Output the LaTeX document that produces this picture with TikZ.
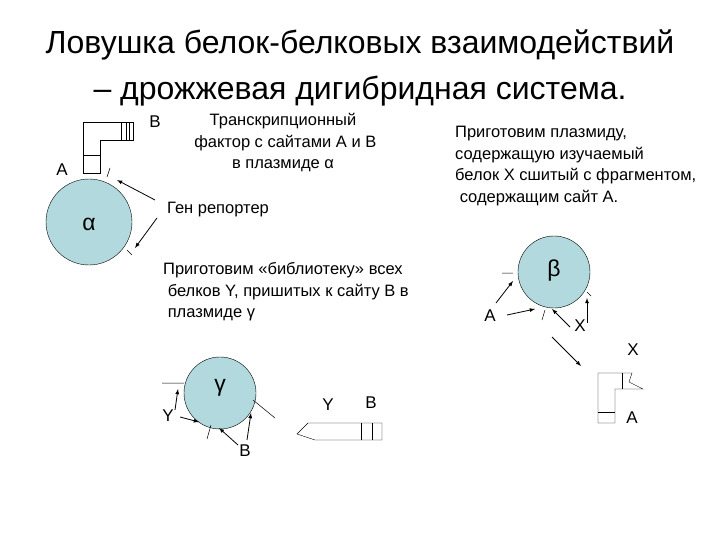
\documentclass[tikz,border=0pt]{standalone}
\usepackage{fontspec}
\setmainfont{Liberation Sans}
\definecolor{cfill}{RGB}{178,218,222}
\begin{document}
\begin{tikzpicture}[x=1pt,y=-1pt,
  circ/.style={draw,fill=cfill,circle},
  txt/.style={font=\fontsize{16.5}{21.5}\selectfont,inner sep=0pt},
  lbl/.style={font=\fontsize{17}{19}\selectfont,inner sep=1pt},
  gr/.style={font=\fontsize{23}{25}\selectfont,inner sep=0pt},
  arr/.style={-latex,thick},
  thin/.style={line width=0.5pt}]
\useasboundingbox (0,0) rectangle (720,540);
\node[font=\fontsize{32}{46}\selectfont,align=center] (title) at (360,68) {Ловушка белок-белковых взаимодействий\\– дрожжевая дигибридная система.};
% alpha
\node[circ,minimum size=86pt] (alpha) at (89,222) {};
\node[gr] (alab) at (89,224) {α};
\draw (83,122) -- (133,122) -- (133,140) -- (100,140) -- (100,173) -- (83,173) -- cycle;
\draw (83,155) -- (100,155) (121,122) -- (121,140) (126,122) -- (126,140) (129,122) -- (129,140);
\draw[thin] (107,177) -- (110,168) (127,250) -- (132,255);
\node[lbl] (A1) at (62,170) {A};
\node[lbl] (B1) at (155,122) {B};
\node[txt,align=center] (t1) at (283,143) {Транскрипционный\\\ фактор с сайтами А и В\\в плазмиде α};
\node[txt] (rep) at (218,210) {Ген репортер};
\coordinate (ra) at (117,180); \coordinate (rb) at (135,248);
\draw[arr] (155,200) -- (ra);
\draw[arr] (157,218) -- (rb);
\node[txt,align=left,anchor=west] (t2) at (163,292) {Приготовим «библиотеку» всех\\\ белков Y, пришитых к сайту В в\\\ плазмиде γ};
\node[txt,align=left,anchor=west] (t3) at (455,166) {Приготовим плазмиду,\\содержащую изучаемый\\белок Х сшитый с фрагментом,\\\ содержащим сайт А.};
% beta
\node[circ,minimum size=72pt] (beta) at (554,272) {};
\node[gr] (blab) at (554,271) {β};
\draw[thin] (502,273) -- (513,273) (542,320) -- (545,310) (587,292) -- (591,296);
\node[lbl] (A2) at (490,316) {A};
\node[lbl] (X2) at (580,326) {X};
\coordinate (b1) at (513,281); \coordinate (b2) at (535,309); \coordinate (b3) at (552,309); \coordinate (b4) at (587,298);
\draw[arr] (496,303) -- (b1);
\draw[arr] (507,315) -- (b2);
\draw[arr] (570,327) -- (b3);
\draw[arr] (587,323) -- (b4);
\coordinate (bs) at (552,337); \coordinate (be) at (581,366);
\draw[arr] (bs) -- (be);
\node[lbl] (X3) at (633,350) {X};
\draw (598,373) -- (632,373) -- (629,382) -- (643,389) -- (615,389) -- (615,423) -- (598,423) -- cycle;
\draw (622,373) -- (622,389) (598,412) -- (615,412);
\node[lbl] (A3) at (632,418) {A};
% gamma
\node[circ,minimum size=72pt] (gamma) at (220,393) {};
\node[gr] (glab) at (220,388) {γ};
\draw[thin] (162,383) -- (184,383) (207,439) -- (211,425) (253,400) -- (275,418);
\node[lbl] (Y1) at (168,416) {Y};
\node[lbl] (B2) at (245,451) {B};
\coordinate (g1) at (178,389); \coordinate (g2) at (199,422); \coordinate (g3) at (219,428); \coordinate (g4) at (251,413);
\draw[arr] (175,410) -- (g1);
\draw[arr] (180,417) -- (g2);
\draw[arr] (238,445) -- (g3);
\draw[arr] (247,440) -- (g4);
\node[lbl] (Y2) at (328,405) {Y};
\node[lbl] (B3) at (371,403) {B};
\draw (297,434) -- (308,423) -- (382,423) -- (382,440) -- (315,440) -- cycle;
\draw (361,423) -- (361,440) (372,423) -- (372,440);
\end{tikzpicture}
\end{document}
